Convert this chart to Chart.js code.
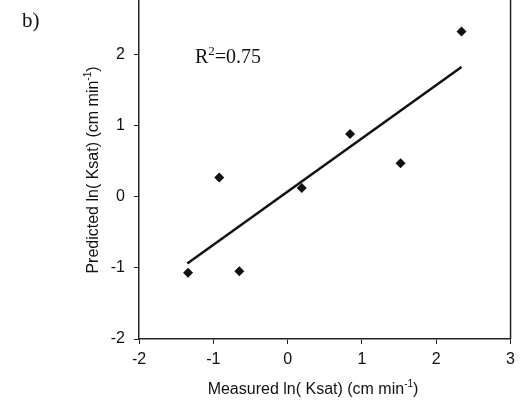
<!DOCTYPE html>
<html>
<head>
<meta charset="utf-8">
<script src="https://cdn.jsdelivr.net/npm/chart.js@4"></script>
<style>
    html, body { margin: 0; padding: 0; background: #fff; overflow: hidden; }
    /* top of the plot frame is cropped off in the scan, so shift the canvas up */
    #wrap { position: absolute; left: 0; top: -40px; }
</style>
</head>
<body>
<div id="wrap"><canvas id="ksatChart" width="521" height="450"></canvas></div>
<script>
// Measured vs predicted ln(Ksat), cm min-1
const measured  = [-1.34, -0.92, -0.65, 0.19, 0.84, 1.52, 2.34];
const predicted = [-1.07, 0.27, -1.05, 0.12, 0.88, 0.47, 2.32];

// regression line end points
const fitX = [-1.35, 2.34];
const fitY = [-0.94, 1.82];

const xTicks = [-2, -1, 0, 1, 2, 3];
const yTicks = [-2, -1, 0, 1, 2, 3];

const rSquared = '0.75';
const panelLabel = 'b)';

const INK = '#111';
const SANS = "'Liberation Sans', Arial, sans-serif";
const SERIF = "'Liberation Serif', 'Times New Roman', serif";

// draw "text(sup)rest" with a small raised part
function drawSup(ctx, parts, x, y, size, family, align) {
    const sub = Math.round(size * 0.64);
    ctx.font = `${size}px ${family}`;
    const w1 = ctx.measureText(parts[0]).width;
    const w3 = ctx.measureText(parts[2]).width;
    ctx.font = `${sub}px ${family}`;
    const w2 = ctx.measureText(parts[1]).width;
    const total = w1 + w2 + w3;
    let x0 = align === 'center' ? x - total / 2 : x;
    ctx.textAlign = 'left';
    ctx.textBaseline = 'alphabetic';
    ctx.font = `${size}px ${family}`;
    ctx.fillText(parts[0], x0, y);
    ctx.font = `${sub}px ${family}`;
    ctx.fillText(parts[1], x0 + w1, y - size * 0.42);
    ctx.font = `${size}px ${family}`;
    ctx.fillText(parts[2], x0 + w1 + w2, y);
}

const annotations = {
    id: 'annotations',
    afterDraw(chart) {
        const ctx = chart.ctx;
        const area = chart.chartArea;
        ctx.save();

        // right + top frame lines
        ctx.strokeStyle = '#222';
        ctx.lineWidth = 1.5;
        ctx.beginPath();
        ctx.moveTo(area.left, area.top);
        ctx.lineTo(area.right, area.top);
        ctx.lineTo(area.right, area.bottom);
        ctx.stroke();

        ctx.fillStyle = INK;

        // x axis title
        drawSup(ctx, ['Measured ln( Ksat) (cm min', '-1', ')'], 313, 434, 16, SANS, 'center');

        // y axis title, rotated
        ctx.save();
        ctx.translate(98, 210);
        ctx.rotate(-Math.PI / 2);
        drawSup(ctx, ['Predicted ln( Ksat) (cm min', '-1', ')'], 0, 0, 16, SANS, 'center');
        ctx.restore();

        // R squared
        drawSup(ctx, ['R', '2', '=' + rSquared], 195, 103, 20, SERIF, 'left');

        // panel label
        ctx.font = `21px ${SERIF}`;
        ctx.textAlign = 'left';
        ctx.textBaseline = 'alphabetic';
        ctx.fillText(panelLabel, 22, 67);

        ctx.restore();
    }
};

function renderChart() {
    const ctx = document.getElementById('ksatChart').getContext('2d');

    const points = measured.map((x, i) => ({ x: x, y: predicted[i] }));
    const fitLine = fitX.map((x, i) => ({ x: x, y: fitY[i] }));

    new Chart(ctx, {
        type: 'scatter',
        data: {
            datasets: [
                {
                    label: 'fit',
                    type: 'line',
                    data: fitLine,
                    borderColor: INK,
                    borderWidth: 2.5,
                    pointRadius: 0,
                    fill: false
                },
                {
                    label: 'samples',
                    data: points,
                    pointStyle: 'rectRot',
                    pointRadius: 5,
                    backgroundColor: INK,
                    borderColor: INK,
                    borderWidth: 0
                }
            ]
        },
        options: {
            responsive: false,
            animation: false,
            layout: { padding: { left: 0, right: 8, top: 23, bottom: 0 } },
            plugins: {
                legend: { display: false },
                tooltip: { enabled: false }
            },
            scales: {
                x: {
                    type: 'linear',
                    min: xTicks[0],
                    max: xTicks[xTicks.length - 1],
                    afterBuildTicks: s => { s.ticks = xTicks.map(v => ({ value: v })); },
                    afterFit: s => { s.height = 71; },
                    grid: { drawOnChartArea: false, drawTicks: true, tickLength: 5, color: '#222', lineWidth: 1 },
                    border: { color: '#222', width: 1.5 },
                    ticks: { color: INK, padding: 6, maxRotation: 0, font: { family: SANS, size: 16 } }
                },
                y: {
                    type: 'linear',
                    min: yTicks[0],
                    max: yTicks[yTicks.length - 1],
                    afterBuildTicks: s => { s.ticks = yTicks.map(v => ({ value: v })); },
                    afterFit: s => { s.width = 139; },
                    grid: { drawOnChartArea: false, drawTicks: true, tickLength: 5, color: '#222', lineWidth: 1 },
                    border: { color: '#222', width: 1.5 },
                    ticks: { color: INK, padding: 9, font: { family: SANS, size: 16 } }
                }
            }
        },
        plugins: [annotations]
    });
}

renderChart();
</script>
</body>
</html>
